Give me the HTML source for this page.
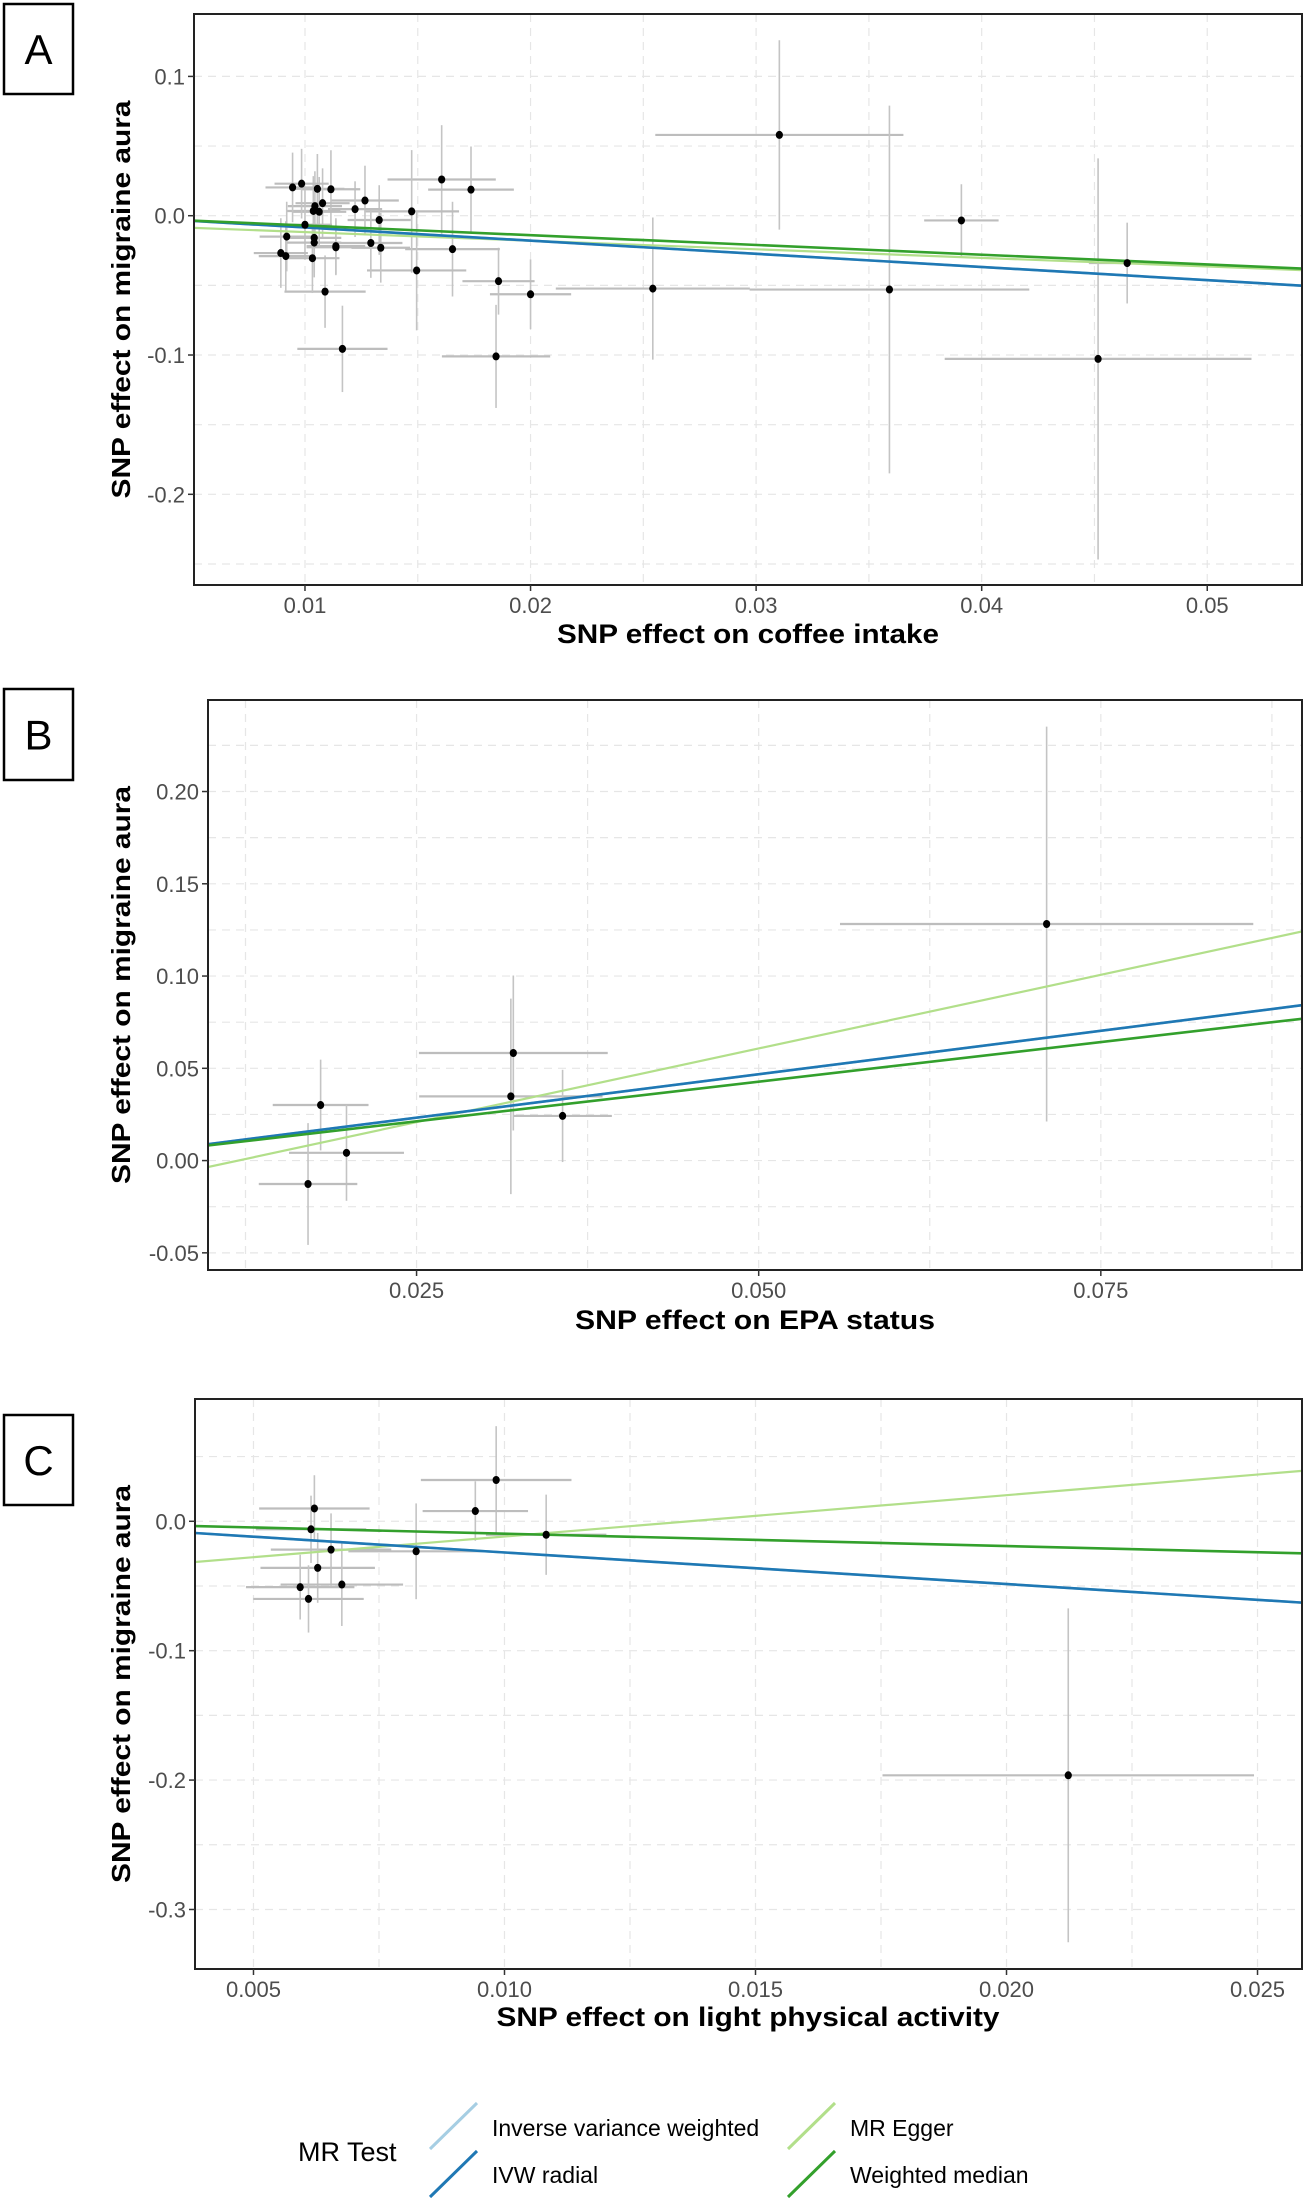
<!DOCTYPE html>
<html><head><meta charset="utf-8"><style>
html,body{margin:0;padding:0;background:#fff;}
svg{display:block;font-family:"Liberation Sans",Arial,sans-serif;}
</style></head><body>
<svg id="fig" width="1306" height="2201" viewBox="0 0 1306 2201" xmlns="http://www.w3.org/2000/svg"></svg>
<script>
// ---- Panel A data (coffee intake) ----
const aX = [0.03103,0.0391,0.04645,0.04516,0.03591,0.02542,0.02,0.01858,0.01847,0.01654,0.01606,0.01736,0.01473,0.01495,0.01166,0.01089,0.01329,0.01336,0.01292,0.01266,0.01222,0.01137,0.01137,0.01115,0.01055,0.01078,0.01063,0.01044,0.01037,0.01,0.00985,0.00945,0.00919,0.01041,0.01041,0.01033,0.00915,0.00893];
const aY = [0.058,-0.0034,-0.034,-0.1028,-0.053,-0.0523,-0.0564,-0.047,-0.101,-0.024,0.026,0.0187,0.0031,-0.0393,-0.0956,-0.0545,-0.0031,-0.023,-0.0196,0.0109,0.0047,-0.0218,-0.0227,0.019,0.0193,0.009,0.0028,0.0069,0.0034,-0.0065,0.023,0.0203,-0.015,-0.0159,-0.0193,-0.0305,-0.029,-0.0268];
const aXe = [0.0055,0.00165,0.0017,0.0068,0.0062,0.0043,0.0018,0.0016,0.0024,0.0021,0.0024,0.0019,0.0021,0.0022,0.002,0.0018,0.0014,0.0013,0.0014,0.0015,0.0012,0.0013,0.0013,0.0013,0.0012,0.0012,0.0012,0.0012,0.0012,0.0012,0.0012,0.0012,0.0012,0.0012,0.0012,0.0012,0.0012,0.0012];
const aYe = [0.068,0.026,0.029,0.144,0.132,0.051,0.025,0.024,0.037,0.034,0.039,0.031,0.044,0.043,0.031,0.026,0.025,0.025,0.025,0.025,0.02,0.02,0.02,0.028,0.025,0.025,0.025,0.025,0.025,0.025,0.025,0.025,0.025,0.025,0.025,0.025,0.025,0.025];
const aXTicks = [0.01,0.02,0.03,0.04,0.05];
const aXTickLabels = ["0.01","0.02","0.03","0.04","0.05"];
const aYTicks = [0.1,0,-0.1,-0.2];
const aYTickLabels = ["0.1","0.0","-0.1","-0.2"];
const aSlopes = [-0.945,-0.945,-0.617,-0.70];
const aIntercepts = [0.001,0.001,-0.0056,0.0];

// ---- Panel B data (EPA status) ----
const bX = [0.07104,0.03207,0.03189,0.03567,0.01799,0.01988,0.01707];
const bY = [0.1282,0.0583,0.0348,0.0242,0.0301,0.0042,-0.0127];
const bXe = [0.0151,0.0069,0.0067,0.0036,0.0035,0.0042,0.0036];
const bYe = [0.107,0.042,0.053,0.025,0.0246,0.026,0.033];
const bXTicks = [0.025,0.05,0.075];
const bXTickLabels = ["0.025","0.050","0.075"];
const bYTicks = [0.2,0.15,0.1,0.05,0,-0.05];
const bYTickLabels = ["0.20","0.15","0.10","0.05","0.00","-0.05"];
const bSlopes = [0.942,0.942,1.597,0.859];
const bIntercepts = [-0.0003,-0.0003,-0.0191,-0.0002];

// ---- Panel C data (light physical activity) ----
const cX = [0.02123,0.009834,0.009419,0.01083,0.00824,0.006213,0.006146,0.006545,0.006279,0.00676,0.00593,0.006096];
const cY = [-0.1963,0.0319,0.0079,-0.0104,-0.0232,0.0099,-0.0062,-0.0219,-0.036,-0.0489,-0.0509,-0.06];
const cXe = [0.0037,0.0015,0.00105,0.0012,0.00135,0.0011,0.0011,0.0012,0.00114,0.00122,0.00108,0.0011];
const cYe = [0.129,0.0416,0.023,0.031,0.037,0.0257,0.026,0.028,0.027,0.032,0.025,0.026];
const cXTicks = [0.005,0.01,0.015,0.02,0.025];
const cXTickLabels = ["0.005","0.010","0.015","0.020","0.025"];
const cYTicks = [0,-0.1,-0.2,-0.3];
const cYTickLabels = ["0.0","-0.1","-0.2","-0.3"];
const cSlopes = [-2.44,-2.44,3.193,-0.957];
const cIntercepts = [0.0003,0.0003,-0.0437,0.0];

const methodNames = ["Inverse variance weighted","IVW radial","MR Egger","Weighted median"];
const methodColors = ["#a6cee3","#1f78b4","#b2df8a","#33a02c"];

const NS = "http://www.w3.org/2000/svg";
const svg = document.getElementById("fig");
function mk(tag, attrs, parent){
  const e = document.createElementNS(NS, tag);
  for (const k in attrs) e.setAttribute(k, attrs[k]);
  (parent||svg).appendChild(e);
  return e;
}

function panel(cfg){
  const g = mk("g", {});
  
  
  const L=cfg.box[0], T=cfg.box[1], R=cfg.box[2], B=cfg.box[3];
  const sx = v => L + (v - cfg.xd[0])/(cfg.xd[1]-cfg.xd[0])*(R-L);
  const sy = v => B - (v - cfg.yd[0])/(cfg.yd[1]-cfg.yd[0])*(B-T);
  const clip = "clip-"+cfg.name;
  const cp = mk("clipPath", {id:clip}, g);
  mk("rect",{x:L,y:T,width:R-L,height:B-T},cp);
  const xs = cfg.xt, ys = cfg.yt;
  const dx = xs[1]-xs[0], dy = ys[0]-ys[1];
  const gx=[], gy=[];
  for (let v = xs[0]-2*dx; v <= xs[xs.length-1]+2*dx+1e-9; v += dx/2) gx.push(v);
  for (let v = ys[ys.length-1]-2*dy; v <= ys[0]+2*dy+1e-9; v += dy/2) gy.push(v);
  const grid = mk("g",{"clip-path":"url(#"+clip+")"},g);
  
  
  gx.forEach(v=>{ const p=sx(v); if(p>L&&p<R) mk("line",{x1:p,x2:p,y1:T,y2:B,stroke:"#e6e6e6","stroke-width":1.2,"stroke-dasharray":"8,6"},grid);});
  gy.forEach(v=>{ const p=sy(v); if(p>T&&p<B) mk("line",{x1:L,x2:R,y1:p,y2:p,stroke:"#e6e6e6","stroke-width":1.2,"stroke-dasharray":"8,6"},grid);});
  const eg = mk("g",{"clip-path":"url(#"+clip+")"},g);
  cfg.X.forEach((x,i)=>{
    const y = cfg.Y[i];
    const h = mk("line",{x1:sx(x-cfg.Xe[i]),x2:sx(x+cfg.Xe[i]),y1:sy(y),y2:sy(y),stroke:"#bdbdbd","stroke-width":2.2},eg);
    
    
    const v = mk("line",{x1:sx(x),x2:sx(x),y1:sy(y-cfg.Ye[i]),y2:sy(y+cfg.Ye[i]),stroke:"#c4c4c4","stroke-width":1.6},eg);
    
    
  });
  const lg = mk("g",{"clip-path":"url(#"+clip+")"},g);
  [2,0,1,3].forEach(k=>{
    const x0=cfg.xd[0], x1=cfg.xd[1];
    const ln = mk("line",{x1:sx(x0),y1:sy(cfg.s[k]*x0+cfg.c[k]),x2:sx(x1),y2:sy(cfg.s[k]*x1+cfg.c[k]),stroke:methodColors[k],"stroke-width":k===2?2.2:2.6},lg);
    
    
  });
  cfg.X.forEach((x,i)=>{
    const c = mk("ellipse",{cx:sx(x),cy:sy(cfg.Y[i]),rx:3.6,ry:4,fill:"#000"},g);
    
    
  });
  mk("rect",{x:L,y:T,width:R-L,height:B-T,fill:"none",stroke:"#222","stroke-width":2},g);
  cfg.xt.forEach((v,i)=>{
    const p=sx(v);
    mk("line",{x1:p,x2:p,y1:B,y2:B+6,stroke:"#333","stroke-width":1.5},g);
    const t=mk("text",{x:p,y:B+28,"text-anchor":"middle","font-size":22,fill:"#4d4d4d"},g);
    t.textContent=cfg.xl[i];
    
    
  });
  cfg.yt.forEach((v,i)=>{
    const p=sy(v);
    mk("line",{x1:L-6,x2:L,y1:p,y2:p,stroke:"#333","stroke-width":1.5},g);
    const t=mk("text",{x:L-9,y:p+8,"text-anchor":"end","font-size":22,fill:"#4d4d4d"},g);
    t.textContent=cfg.yl[i];
    
    
  });
  const xt=mk("text",{x:cfg.xtitleX,y:cfg.xtitleY,"text-anchor":"middle","font-size":27,"font-weight":"bold",fill:"#000",textLength:cfg.xtitleW,lengthAdjust:"spacingAndGlyphs"},g);
  xt.textContent=cfg.xtitle;
  
  
  const cy=(T+B)/2;
  const yt=mk("text",{x:0,y:0,"text-anchor":"middle","font-size":26,"font-weight":"bold",fill:"#000",textLength:398,lengthAdjust:"spacingAndGlyphs",transform:"translate(130,"+cy+") rotate(-90)"},g);
  yt.textContent="SNP effect on migraine aura";
  
  
  mk("rect",{x:4,y:cfg.lab[0],width:69,height:cfg.lab[1]-cfg.lab[0],fill:"#fff",stroke:"#000","stroke-width":2.5},g);
  const lt=mk("text",{x:38.5,y:(cfg.lab[0]+cfg.lab[1])/2+15,"text-anchor":"middle","font-size":42,fill:"#000"},g);
  lt.textContent=cfg.letter;
  
  
}

panel({name:"panel-a-coffee",box:[194,14,1302,585],xd:[0.00508,0.0542],yd:[-0.2651,0.1448],
  X:aX,Y:aY,Xe:aXe,Ye:aYe,xt:aXTicks,xl:aXTickLabels,yt:aYTicks,yl:aYTickLabels,s:aSlopes,c:aIntercepts,
  xtitle:"SNP effect on coffee intake",xtitleX:748,xtitleY:643,xtitleW:382,lab:[4,94],letter:"A"});
panel({name:"panel-b-epa",box:[208,700,1302,1270],xd:[0.00976,0.0897],yd:[-0.0593,0.2496],
  X:bX,Y:bY,Xe:bXe,Ye:bYe,xt:bXTicks,xl:bXTickLabels,yt:bYTicks,yl:bYTickLabels,s:bSlopes,c:bIntercepts,
  xtitle:"SNP effect on EPA status",xtitleX:755,xtitleY:1329,xtitleW:360,lab:[689,780],letter:"B"});
panel({name:"panel-c-activity",box:[195,1399,1302,1969],xd:[0.003835,0.025886],yd:[-0.346,0.0945],
  X:cX,Y:cY,Xe:cXe,Ye:cYe,xt:cXTicks,xl:cXTickLabels,yt:cYTicks,yl:cYTickLabels,s:cSlopes,c:cIntercepts,
  xtitle:"SNP effect on light physical activity",xtitleX:748,xtitleY:2026,xtitleW:503,lab:[1415,1505],letter:"C"});

const lg = mk("g",{});


const lt = mk("text",{x:298,y:2161,"font-size":27,fill:"#000"},lg);
lt.textContent="MR Test";


const legPos = [[430,2149,492,2136],[430,2197,492,2183],[788,2149,850,2136],[788,2197,850,2183]];
methodNames.forEach((n,k)=>{
  const p = legPos[k];
  const e = mk("g",{},lg);
  
  
  mk("line",{x1:p[0],y1:p[1],x2:p[0]+47,y2:p[1]-46,stroke:methodColors[k],"stroke-width":3},e);
  const t = mk("text",{x:p[2],y:p[3],"font-size":23,fill:"#000"},e);
  t.textContent=n;
});
</script>
</body></html>
